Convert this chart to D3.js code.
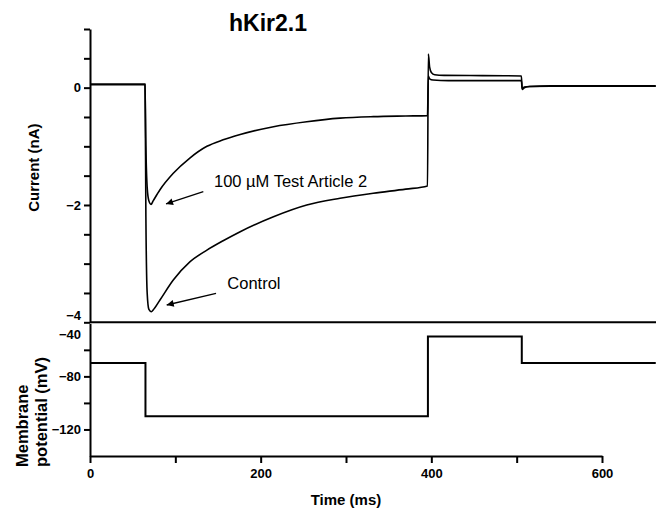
<!DOCTYPE html>
<html>
<head>
<meta charset="utf-8">
<script src="https://cdn.jsdelivr.net/npm/d3@7"></script>
<style>
  html, body { margin: 0; padding: 0; background: #fff; }
  svg { display: block; font-family: "Liberation Sans", Arial, sans-serif; }
</style>
</head>
<body>
<svg id="chart" width="656" height="511"></svg>
<script>
// Whole-cell hKir2.1 currents (nA) and the voltage protocol (mV) over time (ms)
const controlTime = [0, 64.5, 65.5, 67, 69, 72, 74, 82, 97.6, 117, 137, 156, 176, 215, 254, 293, 332, 370, 395.5,
  396.5, 398, 400, 404, 415, 460, 505.5, 506.5, 509, 515, 540, 600, 663];
const controlCurrent = [0.06, 0.06, -2.2, -3.5, -3.78, -3.82, -3.79, -3.62, -3.28, -2.97, -2.77, -2.61, -2.455, -2.2, -2.0, -1.886, -1.8, -1.73, -1.676,
  0.575, 0.35, 0.26, 0.22, 0.21, 0.205, 0.2, -0.03, 0.0, 0.02, 0.03, 0.03, 0.03];

const testTime = [0, 64.5, 65.5, 67, 69, 71.5, 74, 82, 97.6, 117, 137, 156, 176, 215, 254, 293, 332, 370, 395.5,
  396.5, 398, 402, 420, 505.5, 506.5, 509, 515, 540, 663];
const testCurrent = [0.05, 0.05, -1.0, -1.7, -1.93, -1.99, -1.93, -1.74, -1.46, -1.2, -1.0, -0.89, -0.8, -0.665, -0.58, -0.52, -0.494, -0.483, -0.477,
  0.2, 0.15, 0.13, 0.12, 0.12, -0.02, 0.01, 0.02, 0.025, 0.025];

const protocolTime = [0, 65, 396, 506, 663];
const protocolVoltage = [-70, -110, -50, -70, -70];

const currentTicks = [-4, -3.5, -3, -2.5, -2, -1.5, -1, -0.5, 0, 0.5, 1];
const currentTickLabels = [-4, -2, 0];
const voltageTicks = [-40, -60, -80, -100, -120];
const voltageTickLabels = [-40, -80, -120];
const timeTicks = [0, 100, 200, 300, 400, 500, 600];
const timeTickLabels = [0, 200, 400, 600];

// Trace annotations: [label, text time, text current, arrow start time, start current, arrow tip time, tip current]
const annotations = [
  ["100 \u00B5M Test Article 2", 145.3, -1.6, 132.8, -1.773, 89.1, -1.983],
  ["Control", 160.9, -3.335, 147.7, -3.506, 89.9, -3.705]
];

const svg = d3.select("#chart");
const W = 656;

const x = d3.scaleLinear().domain([0, 600]).range([90, 602]);
const yI = d3.scaleLinear().domain([-4, 1]).range([322.3, 29]);
const yV = d3.scaleLinear().domain([-140, -40]).range([456, 323.3]);

const tickFont = "bold 13px 'Liberation Sans', Arial, sans-serif";

function styleAxis(g) {
  g.select(".domain").attr("stroke", "#000").attr("stroke-width", 2);
  g.selectAll(".tick line").attr("stroke", "#000").attr("stroke-width", 2);
  g.selectAll(".tick text").style("font", tickFont).attr("fill", "#000");
}

// Current panel axis
const axI = svg.append("g").attr("transform", "translate(90,0)")
  .call(d3.axisLeft(yI).tickValues(currentTicks).tickSize(6).tickSizeOuter(0).tickPadding(3)
    .tickFormat(d => currentTickLabels.includes(d) ? d3.format("d")(d) : ""));
styleAxis(axI);
axI.selectAll(".tick text").filter(d => d === -4).attr("dy", "-0.2em");

// Top panel baseline, running across the full width
svg.append("line")
  .attr("x1", x(0)).attr("x2", W)
  .attr("y1", yI(-4)).attr("y2", yI(-4))
  .attr("stroke", "#000").attr("stroke-width", 2);

// Voltage panel axis
const axV = svg.append("g").attr("transform", "translate(90,0)")
  .call(d3.axisLeft(yV).tickValues(voltageTicks).tickSize(6).tickSizeOuter(0).tickPadding(3)
    .tickFormat(d => voltageTickLabels.includes(d) ? d3.format("d")(d) : ""));
styleAxis(axV);
axV.selectAll(".tick line").filter(d => d === -40).remove();
axV.selectAll(".tick text").filter(d => d === -40).attr("dy", "1.2em");

// Time axis
const axT = svg.append("g").attr("transform", `translate(0,${yV(-140)})`)
  .call(d3.axisBottom(x).tickValues(timeTicks).tickSize(7).tickSizeOuter(0).tickPadding(6)
    .tickFormat(d => timeTickLabels.includes(d) ? d3.format("d")(d) : ""));
styleAxis(axT);

// Traces
const lineI = d3.line().curve(d3.curveMonotoneX);
function drawCurrent(times, values) {
  svg.append("path")
    .attr("d", lineI(times.map((t, i) => [x(t), yI(values[i])])))
    .attr("fill", "none").attr("stroke", "#000").attr("stroke-width", 1.6)
    .attr("stroke-linejoin", "round");
}
drawCurrent(testTime, testCurrent);
drawCurrent(controlTime, controlCurrent);

const lineV = d3.line().curve(d3.curveStepAfter);
svg.append("path")
  .attr("d", lineV(protocolTime.map((t, i) => [x(t), yV(protocolVoltage[i])])))
  .attr("fill", "none").attr("stroke", "#000").attr("stroke-width", 2);

// Annotations with arrows
const defs = svg.append("defs");
defs.append("marker")
  .attr("id", "arrowhead").attr("viewBox", "0 0 10 10")
  .attr("refX", 10).attr("refY", 5)
  .attr("markerWidth", 10).attr("markerHeight", 7)
  .attr("markerUnits", "userSpaceOnUse")
  .attr("orient", "auto")
  .append("path").attr("d", "M0,0 L10,5 L0,10 Z").attr("fill", "#000");

annotations.forEach(a => {
  svg.append("line")
    .attr("x1", x(a[3])).attr("y1", yI(a[4]))
    .attr("x2", x(a[5])).attr("y2", yI(a[6]))
    .attr("stroke", "#000").attr("stroke-width", 1.3)
    .attr("marker-end", "url(#arrowhead)");
  svg.append("text")
    .attr("x", x(a[1])).attr("y", yI(a[2]))
    .attr("dy", "0.35em")
    .style("font", "16.5px 'Liberation Sans', Arial, sans-serif")
    .text(a[0]);
});

// Titles
svg.append("text")
  .attr("x", 268).attr("y", 31)
  .attr("text-anchor", "middle")
  .style("font", "bold 23px 'Liberation Sans', Arial, sans-serif")
  .text("hKir2.1");

svg.append("text")
  .attr("transform", `translate(39,${(yI(1) + yI(-4)) / 2 - 8}) rotate(-90)`)
  .attr("text-anchor", "middle")
  .style("font", "bold 15px 'Liberation Sans', Arial, sans-serif")
  .text("Current (nA)");

const vLabel = svg.append("text")
  .attr("transform", "translate(0,467) rotate(-90)")
  .style("font", "bold 16.5px 'Liberation Sans', Arial, sans-serif");
vLabel.append("tspan").attr("x", 0).attr("y", 28).text("Membrane");
vLabel.append("tspan").attr("x", 0).attr("y", 47).text("potential (mV)");

svg.append("text")
  .attr("x", (x(0) + x(600)) / 2).attr("y", 505)
  .attr("text-anchor", "middle")
  .style("font", "bold 15px 'Liberation Sans', Arial, sans-serif")
  .text("Time (ms)");
</script>
</body>
</html>
